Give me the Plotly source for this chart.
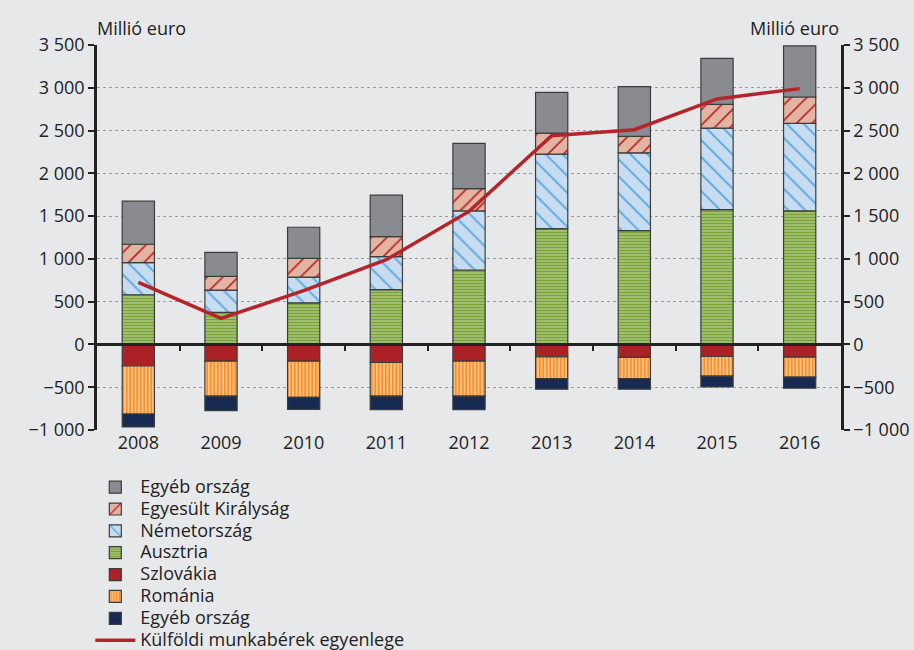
import plotly.graph_objects as go

years = ["2008", "2009", "2010", "2011", "2012", "2013", "2014", "2015", "2016"]

# pozitív oldal (millió euro)
ausztria = [581, 375, 487, 640, 870, 1354, 1330, 1576, 1561]
nemetorszag = [375, 261, 301, 386, 691, 871, 910, 953, 1022]
egyesult_kiralysag = [215, 160, 219, 234, 261, 246, 191, 277, 309]
egyeb_poz = [503, 281, 363, 485, 527, 475, 582, 538, 597]

# negatív oldal
szlovakia = [-250, -196, -196, -211, -196, -145, -152, -141, -149]
romania = [-563, -409, -421, -394, -409, -253, -246, -230, -234]
egyeb_neg = [-152, -168, -141, -156, -156, -125, -125, -125, -129]

egyenleg = [726, 304, 630, 990, 1555, 2440, 2510, 2870, 2990]

tick_vals = [-1000, -500, 0, 500, 1000, 1500, 2000, 2500, 3000, 3500]
tick_text = ["\u22121 000", "\u2212500", "0", "500", "1 000", "1 500", "2 000", "2 500", "3 000", "3 500"]

BG = "#e7e8ea"
EDGE = "#3c3c3c"
FONT = "Open Sans"


def lname(s):
    # nagyobb betű, de sűrűbb sorköz a jelmagyarázatban
    return '<span style="font-size:18px">' + s + "</span>"


x = list(range(len(years)))
fig = go.Figure()


def add_bar(name, vals, color, rank, pattern=None):
    marker = dict(color=color, line=dict(color=EDGE, width=1.2))
    if pattern:
        marker["pattern"] = pattern
    fig.add_trace(go.Bar(x=x, y=vals, name=lname(name), marker=marker, width=0.39, legendrank=rank))


add_bar("Ausztria", ausztria, "#c6dba2", 4,
        dict(shape="-", fgcolor="#78a33a", bgcolor="#c6dba2", size=3, solidity=0.68, fillmode="replace"))
add_bar("Németország", nemetorszag, "#c6dcf0", 3,
        dict(shape="\\", fgcolor="#5aa6dc", bgcolor="#c6dcf0", size=12, solidity=0.15, fillmode="replace"))
add_bar("Egyesült Királyság", egyesult_kiralysag, "#e3b4a2", 2,
        dict(shape="/", fgcolor="#b5242a", bgcolor="#e3b4a2", size=11, solidity=0.15, fillmode="replace"))
add_bar("Egyéb ország", egyeb_poz, "#8a8b90", 1)
add_bar("Szlovákia", szlovakia, "#ab2126", 5)
add_bar("Románia", romania, "#f7902a", 6,
        dict(shape="|", fgcolor="#f7902a", bgcolor="#fdd3a5", size=3.5, solidity=0.62, fillmode="replace"))
add_bar("Egyéb ország", egyeb_neg, "#172a52", 7)

fig.add_trace(go.Scatter(x=x, y=egyenleg, name=lname("Külföldi munkabérek egyenlege"), mode="lines",
                         line=dict(color="#b5242a", width=3.5), legendrank=8, xaxis="x2"))

# jobb oldali tengely (ugyanaz a skála)
fig.add_trace(go.Scatter(x=x, y=egyenleg, xaxis="x2", yaxis="y2", mode="lines", line=dict(width=0),
                         showlegend=False, hoverinfo="skip"))

yrange = [-1000, 3500]
zero_pos = (0 - yrange[0]) / (yrange[1] - yrange[0])

fig.update_layout(
    width=914, height=650,
    paper_bgcolor=BG, plot_bgcolor=BG,
    barmode="relative", bargap=0.6,
    margin=dict(l=97, r=73, t=45, b=220),
    font=dict(family=FONT, size=18, color="#222222"),
    showlegend=True,
    legend=dict(x=-0.009, xanchor="left", yref="container", y=0.275, yanchor="top", traceorder="normal",
                bgcolor="rgba(0,0,0,0)", font=dict(size=14.5), tracegroupgap=0, itemwidth=40),
    xaxis=dict(range=[-0.5, 8.5], tickvals=x, ticktext=years, showgrid=False, zeroline=False,
               showline=False, ticks="", automargin=False),
    xaxis2=dict(overlaying="x", anchor="free", position=zero_pos, range=[-0.5, 8.5],
                tickvals=[i + 0.5 for i in x[:-1]], showticklabels=False, ticks="outside",
                ticklen=5, tickwidth=2, tickcolor="#222222", showline=True, linecolor="#222222",
                linewidth=2.5, showgrid=False, zeroline=False),
    yaxis=dict(range=yrange, tickvals=tick_vals, ticktext=tick_text, showgrid=True,
               gridcolor="#9c9c9c", griddash="dot", gridwidth=1.2, zeroline=False, automargin=False,
               showline=True, linecolor="#222222", linewidth=2.5, ticks="outside", ticklen=6,
               tickwidth=2, tickcolor="#222222"),
    yaxis2=dict(range=yrange, tickvals=tick_vals, ticktext=tick_text, overlaying="y", side="right",
                showgrid=False, zeroline=False, showline=True, linecolor="#222222", linewidth=2.5,
                ticks="outside", ticklen=6, tickwidth=2, tickcolor="#222222", automargin=False),
    annotations=[
        dict(text="Millió euro", xref="paper", yref="paper", x=-0.003, y=1.0, xanchor="left",
             yanchor="bottom", showarrow=False, yshift=3),
        dict(text="Millió euro", xref="paper", yref="paper", x=1.0, y=1.0, xanchor="right",
             yanchor="bottom", showarrow=False, yshift=3),
    ],
)

fig.write_html("out.html", config={"displayModeBar": False},
               post_script="document.body.style.margin='0';")
